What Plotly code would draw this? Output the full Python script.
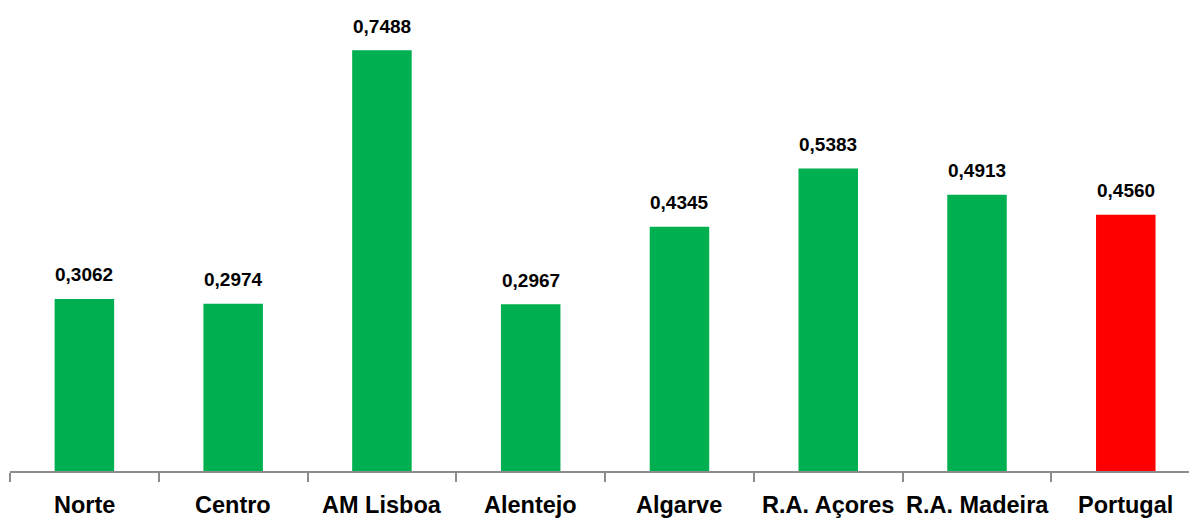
import plotly.graph_objects as go

regions = ["Norte", "Centro", "AM Lisboa", "Alentejo", "Algarve",
           "R.A. Açores", "R.A. Madeira", "Portugal"]
values = [0.3062, 0.2974, 0.7488, 0.2967, 0.4345, 0.5383, 0.4913, 0.4560]
value_labels = ["0,3062", "0,2974", "0,7488", "0,2967", "0,4345",
                "0,5383", "0,4913", "0,4560"]

GREEN = "#00B050"
RED = "#FF0000"
colors = [RED if r == "Portugal" else GREEN for r in regions]

FONT = "Liberation Sans, Arial, sans-serif"

fig = go.Figure(go.Bar(
    x=regions,
    y=values,
    marker=dict(color=colors, line=dict(width=0)),
    hoverinfo="x+y",
))

# value labels above each bar
for r, v, t in zip(regions, values, value_labels):
    fig.add_annotation(
        x=r, y=v, text=f"<b>{t}</b>", showarrow=False,
        yanchor="middle", yshift=24,
        font=dict(family=FONT, size=19, color="#000000"),
    )

# category labels below the axis
for r in regions:
    fig.add_annotation(
        x=r, y=0, yref="paper", text=f"<b>{r}</b>", showarrow=False,
        yanchor="middle", yshift=-34,
        font=dict(family=FONT, size=23.5, color="#000000"),
    )

fig.update_layout(
    width=1189, height=519,
    margin=dict(l=10, r=0, t=0, b=48),
    paper_bgcolor="white", plot_bgcolor="white",
    bargap=0.6, showlegend=False,
)
fig.update_xaxes(
    type="category", range=[-0.5, 7.425],
    tickson="boundaries", ticks="outside", ticklen=9, tickwidth=1.5,
    tickcolor="#8c8c8c", showticklabels=False,
    showline=True, linecolor="#8c8c8c", linewidth=2,
    showgrid=False, zeroline=False,
)
fig.update_yaxes(
    range=[0, 0.838], visible=False, showgrid=False, zeroline=False,
)

fig.write_html("out.html")
